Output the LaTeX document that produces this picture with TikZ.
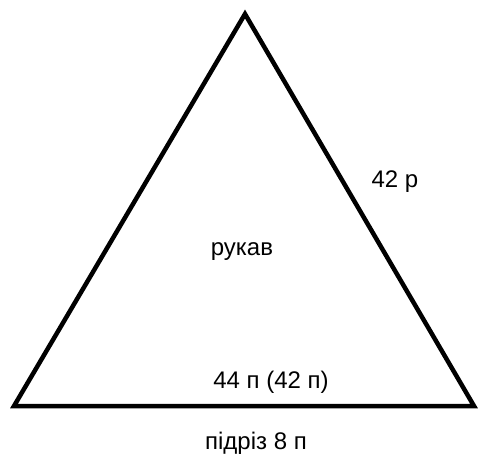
\documentclass[tikz,border=0pt]{standalone}
\usepackage{fontspec}
\setmainfont{Liberation Sans}
\begin{document}
\begin{tikzpicture}[x=1pt,y=-1pt,
  lbl/.style={anchor=base,inner sep=0pt,font=\fontsize{24}{28}\selectfont},
  edge/.style={line width=4.5pt,line join=miter,line cap=butt}]
\useasboundingbox (0,0) rectangle (497,454);
\coordinate (top) at (245,14);
\coordinate (bl) at (14,406);
\coordinate (br) at (474,406);
\draw[edge] (top) -- (br) -- (bl) -- cycle;
\node[lbl] (side) at (395,188) {42 р};
\node[lbl] (mid) at (242,255) {рукав};
\node[lbl] (base) at (271,388) {44 п (42 п)};
\node[lbl] (hem) at (256,449) {підріз 8 п};
\end{tikzpicture}
\end{document}
